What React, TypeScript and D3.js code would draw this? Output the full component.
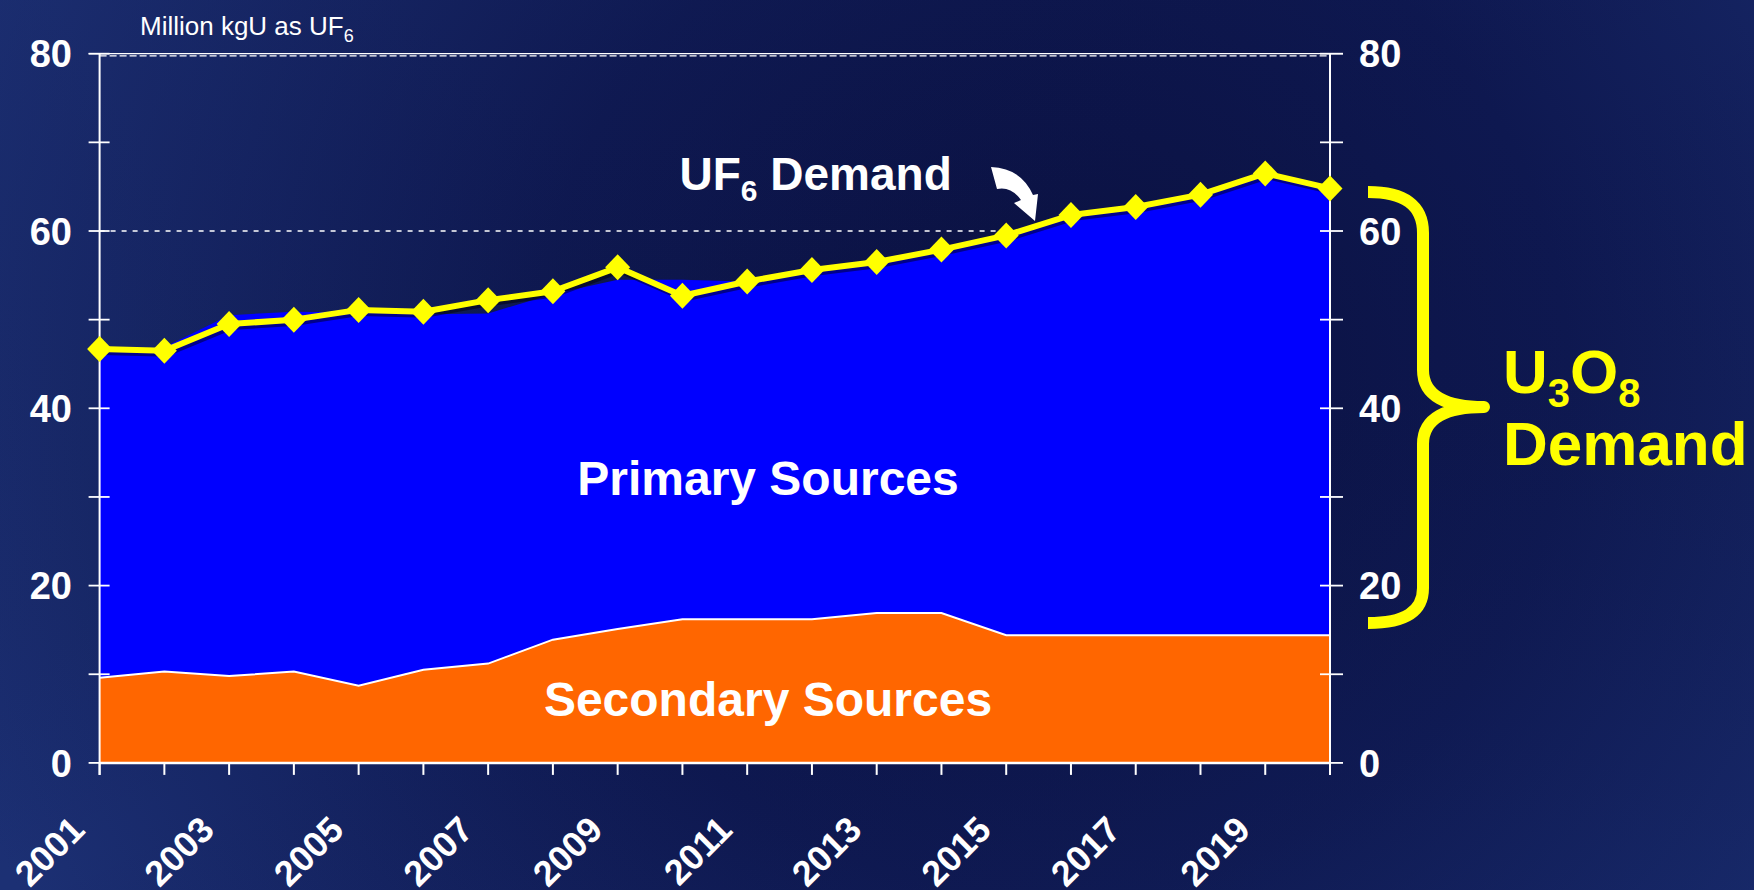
import React from "react";
import * as d3 from "d3";

const years = [2001, 2002, 2003, 2004, 2005, 2006, 2007, 2008, 2009, 2010, 2011, 2012, 2013, 2014, 2015, 2016, 2017, 2018, 2019, 2020];
const secondarySources = [9.6, 10.3, 9.8, 10.3, 8.7, 10.5, 11.2, 13.9, 15.1, 16.2, 16.2, 16.2, 16.9, 16.9, 14.4, 14.4, 14.4, 14.4, 14.4, 14.4];
const primarySources = [36.9, 36.6, 40.7, 40.6, 42.1, 40.1, 39.5, 39.0, 39.4, 38.3, 38.1, 39.4, 39.6, 41.0, 45.1, 47.4, 48.3, 49.7, 52.1, 50.4];
const uf6Demand = [46.7, 46.5, 49.5, 50.0, 51.1, 50.9, 52.2, 53.2, 55.9, 52.7, 54.3, 55.6, 56.5, 57.9, 59.5, 61.8, 62.7, 64.1, 66.5, 64.8];
const yTicksMajor = [0, 20, 40, 60, 80];
const yTicksAll = [0, 10, 20, 30, 40, 50, 60, 70, 80];
const xLabelYears = [2001, 2003, 2005, 2007, 2009, 2011, 2013, 2015, 2017, 2019];

const W = 1754;
const H = 890;
const FONT = "'Liberation Sans', Arial, Helvetica, sans-serif";

export default function App() {
  const x = d3.scaleLinear().domain([2001, 2020]).range([99.6, 1330]);
  const y = d3.scaleLinear().domain([0, 80]).range([762.9, 53.7]);

  const table = years.map((yr, i) => ({ year: yr, secondary: secondarySources[i], primary: primarySources[i] }));
  const stacked = d3.stack<any>().keys(["secondary", "primary"])(table);
  const area = d3
    .area<any>()
    .x((d) => x(d.data.year))
    .y0((d) => y(d[0]))
    .y1((d) => y(d[1]));
  const topLine = d3
    .line<any>()
    .x((d) => x(d.data.year))
    .y((d) => y(d[1]));
  const demandPts = years.map((yr, i) => [x(yr), y(uf6Demand[i])] as [number, number]);
  const demandLine = d3.line()(demandPts) || "";

  const x0 = x(2001);
  const x1 = x(2020);
  const yBase = y(0);

  return (
    <svg width={W} height={H} style={{ position: "absolute", left: 0, top: 0, display: "block" }} fontFamily={FONT}>
      <defs>
        <radialGradient id="bg" cx="1050" cy="380" r="1150" gradientUnits="userSpaceOnUse">
          <stop offset="0" stopColor="#0a1040" />
          <stop offset="0.45" stopColor="#0e1850" />
          <stop offset="1" stopColor="#1c3074" />
        </radialGradient>
        <linearGradient id="bg2" x1="0" y1="0" x2="1" y2="1">
          <stop offset="0" stopColor="#1a2a6a" stopOpacity="0.35" />
          <stop offset="0.5" stopColor="#0a1040" stopOpacity="0" />
          <stop offset="1" stopColor="#1a2f72" stopOpacity="0.3" />
        </linearGradient>
      </defs>
      <rect x={0} y={0} width={W} height={H} fill="url(#bg)" />
      <rect x={0} y={0} width={W} height={H} fill="url(#bg2)" />

      {/* gridlines */}
      {[20, 40, 60].map((v) => (
        <line key={v} x1={x0} x2={x1} y1={y(v)} y2={y(v)} stroke="#ffffff" strokeWidth={1.6} strokeDasharray="5,6" />
      ))}
      <line x1={x0 - 11} x2={x1 + 13} y1={y(80)} y2={y(80)} stroke="#ffffff" strokeWidth={1.2} />
      <line x1={x0} x2={x1} y1={y(80) + 2.2} y2={y(80) + 2.2} stroke="#ffffff" strokeWidth={1.4} strokeDasharray="7,3" />

      {/* areas */}
      <path d={area(stacked[1] as any) || ""} fill="#0000ff" />
      <path d={area(stacked[0] as any) || ""} fill="#ff6600" />
      <path d={topLine(stacked[0] as any) || ""} fill="none" stroke="#ffffff" strokeWidth={2} />

      {/* axes */}
      <line x1={x0} x2={x0} y1={y(80)} y2={yBase + 12} stroke="#ffffff" strokeWidth={2} />
      <line x1={x1} x2={x1} y1={y(80)} y2={yBase + 12} stroke="#ffffff" strokeWidth={2} />
      <line x1={x0} x2={x1} y1={yBase} y2={yBase} stroke="#ffffff" strokeWidth={2.5} />
      {yTicksAll.map((v) => (
        <g key={v}>
          <line x1={x0 - 11} x2={x0 + 10} y1={y(v)} y2={y(v)} stroke="#ffffff" strokeWidth={1.8} />
          <line x1={x1 - 10} x2={x1 + 13} y1={y(v)} y2={y(v)} stroke="#ffffff" strokeWidth={1.8} />
        </g>
      ))}
      {years.map((yr) => (
        <line key={yr} x1={x(yr)} x2={x(yr)} y1={yBase} y2={yBase + 12} stroke="#ffffff" strokeWidth={2} />
      ))}
      {yTicksMajor.map((v) => (
        <g key={v} fill="#ffffff" fontWeight="bold" fontSize={38}>
          <text x={72} y={y(v)} dy="0.36em" textAnchor="end">{v}</text>
          <text x={1359} y={y(v)} dy="0.36em" textAnchor="start">{v}</text>
        </g>
      ))}
      {xLabelYears.map((yr) => (
        <text
          key={yr}
          transform={`translate(${x(yr) - 13},${yBase + 69}) rotate(-45)`}
          textAnchor="end"
          fill="#ffffff"
          fontWeight="bold"
          fontSize={36}
        >
          {yr}
        </text>
      ))}

      {/* demand line */}
      <path d={demandLine} fill="none" stroke="#000000" strokeOpacity={0.45} strokeWidth={6} transform="translate(2,3)" />
      <path d={demandLine} fill="none" stroke="#ffff00" strokeWidth={6} strokeLinejoin="round" />
      {demandPts.map(([px, py], i) => (
        <path key={i} d={`M${px},${py - 13}L${px + 12.5},${py}L${px},${py + 13}L${px - 12.5},${py}Z`} fill="#ffff00" />
      ))}

      {/* unit label */}
      <text x={140} y={35} fill="#ffffff" fontSize={26}>
        Million kgU as UF<tspan fontSize={18} dy={7}>6</tspan>
      </text>

      {/* UF6 Demand annotation */}
      <text x={679.5} y={190} fill="#ffffff" fontWeight="bold" fontSize={46}>
        UF<tspan fontSize={30} dy={11}>6</tspan>
        <tspan dy={-11}> Demand</tspan>
      </text>
      <path d="M991 167 Q1021 168 1033 195 L1038 194 L1035 221 L1014 203 L1021 200 Q1011 186 997 189 Z" fill="#ffffff" />

      {/* area labels */}
      <text x={768} y={495} fill="#ffffff" fontWeight="bold" fontSize={48} textAnchor="middle">Primary Sources</text>
      <text x={768} y={716} fill="#ffffff" fontWeight="bold" fontSize={48} textAnchor="middle">Secondary Sources</text>

      {/* brace */}
      <path
        d="M1368 192 C1404 192 1423 205 1423 233 L1423 370 C1423 396 1446 407 1484 407 C1446 407 1423 418 1423 444 L1423 588 C1423 612 1404 623 1368 623"
        fill="none"
        stroke="#ffff00"
        strokeWidth={12}
        strokeLinejoin="round"
      />
      <text x={1503} y={393} fill="#ffff00" fontWeight="bold" fontSize={62}>
        U<tspan fontSize={40} dy={14}>3</tspan>
        <tspan dy={-14}>O</tspan>
        <tspan fontSize={40} dy={14}>8</tspan>
      </text>
      <text x={1503} y={465} fill="#ffff00" fontWeight="bold" fontSize={62}>Demand</text>
    </svg>
  );
}
